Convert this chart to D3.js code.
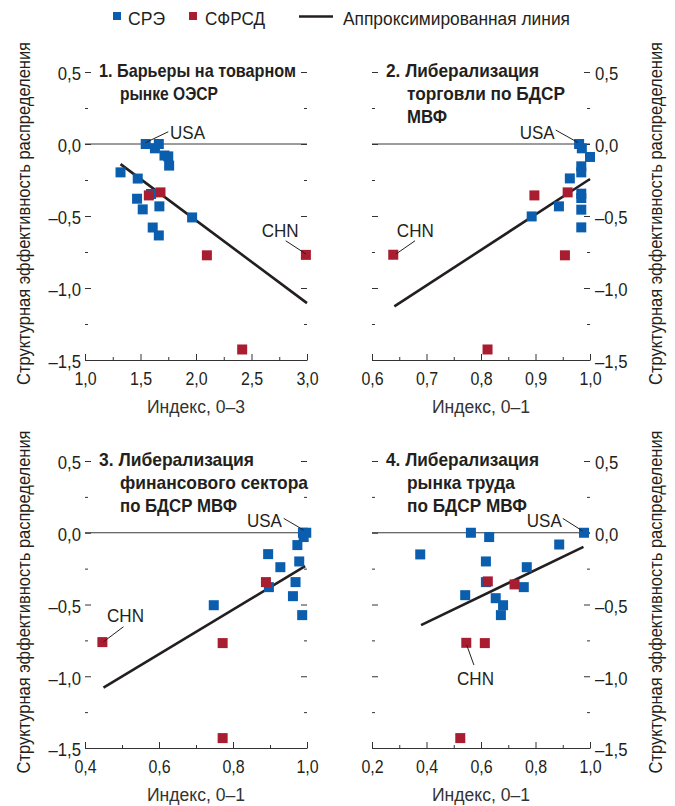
<!DOCTYPE html>
<html><head><meta charset="utf-8">
<script src="https://cdn.jsdelivr.net/npm/d3@7"></script>
<style>body{margin:0;background:#fff}svg{display:block}</style>
</head><body>
<svg id="c" width="675" height="806"></svg>
<script>
// ---------------- DATA ----------------
const legendLabels = ["СРЭ", "СФРСД", "Аппроксимированная линия"];
const yTickValues = [0.5, 0, -0.5, -1, -1.5];
const yMinorValues = [0.25, -0.25, -0.75, -1.25];
const yTitle = "Структурная эффективность распределения";

const p1Title = ["1. Барьеры на товарном", "рынке ОЭСР"];
const p1XLabel = "Индекс, 0–3";
const p1XTicks = [1.0, 1.5, 2.0, 2.5, 3.0];
const p1XMinor = [1.25, 1.75, 2.25, 2.75];
const p1Blue = [[1.547,0],[1.665,0],[1.63,-0.03],[1.716,-0.08],[1.75,-0.086],[1.758,-0.15],[1.32,-0.197],[1.475,-0.24],[1.595,-0.347],[1.469,-0.38],[1.67,-0.433],[1.52,-0.454],[1.965,-0.51],[1.61,-0.58],[1.665,-0.635]];
const p1Red = [[1.575,-0.357],[1.68,-0.336],[2.098,-0.773],[2.99,-0.77],[2.416,-1.427]];
const p1Fit = [[1.32,-0.14],[3.0,-1.105]];

const p2Title = ["2. Либерализация", "торговли по БДСР", "МВФ"];
const p2XLabel = "Индекс, 0–1";
const p2XTicks = [0.6, 0.7, 0.8, 0.9, 1.0];
const p2XMinor = [0.65, 0.75, 0.85, 0.95];
const p2Blue = [[0.98,0],[0.985,-0.03],[1.0,-0.09],[0.984,-0.155],[0.984,-0.197],[0.963,-0.239],[0.984,-0.345],[0.984,-0.375],[0.984,-0.456],[0.943,-0.433],[0.893,-0.503],[0.984,-0.579]];
const p2Red = [[0.898,-0.357],[0.959,-0.336],[0.954,-0.773],[0.639,-0.769],[0.812,-1.427]];
const p2Fit = [[0.641,-1.128],[1.0,-0.243]];

const p3Title = ["3. Либерализация", "финансового сектора", "по БДСР МВФ"];
const p3XLabel = "Индекс, 0–1";
const p3XTicks = [0.4, 0.6, 0.8, 1.0];
const p3XMinor = [0.5, 0.7, 0.9];
const p3Blue = [[0.989,0],[0.998,0],[0.991,-0.03],[0.974,-0.086],[0.895,-0.149],[0.928,-0.24],[0.979,-0.2],[0.897,-0.379],[0.969,-0.344],[0.962,-0.442],[0.748,-0.505],[0.987,-0.574]];
const p3Red = [[0.889,-0.344],[0.772,-0.769],[0.447,-0.762],[0.772,-1.431]];
const p3Fit = [[0.45,-1.08],[0.995,-0.233]];

const p4Title = ["4. Либерализация", "рынка труда", "по БДСР МВФ"];
const p4XLabel = "Индекс, 0–1";
const p4XTicks = [0.2, 0.4, 0.6, 0.8, 1.0];
const p4XMinor = [0.3, 0.5, 0.7, 0.9];
const p4Blue = [[0.978,0],[0.563,0],[0.63,-0.03],[0.887,-0.082],[0.377,-0.151],[0.618,-0.2],[0.768,-0.24],[0.618,-0.344],[0.757,-0.379],[0.542,-0.435],[0.654,-0.456],[0.681,-0.505],[0.673,-0.574]];
const p4Red = [[0.625,-0.339],[0.723,-0.36],[0.546,-0.767],[0.614,-0.769],[0.524,-1.431]];
const p4Fit = [[0.38,-0.644],[0.976,-0.098]];

// annotations: label start (data units) and leader line (data units)
const p1Notes = [{t:"USA", x:1.766, y:0.085, l:[1.547,0.01,1.75,0.085]}, {t:"CHN", x:2.592, y:-0.597, l:[2.808,-0.672,2.991,-0.764]}];
const p2Notes = [{t:"USA", x:0.871, y:0.085, l:[0.937,0.097,0.978,0.01]}, {t:"CHN", x:0.6455, y:-0.597, l:[0.679,-0.672,0.644,-0.764]}];
const p3Notes = [{t:"USA", x:0.8376, y:0.089, l:[0.937,0.1,0.991,0.019]}, {t:"CHN", x:0.4595, y:-0.573, l:[0.504,-0.655,0.45,-0.76]}];
const p4Notes = [{t:"USA", x:0.768, y:0.089, l:[0.9,0.1,0.973,0.012]}, {t:"CHN", x:0.512, y:-1.012, l:[0.574,-0.922,0.5475,-0.782]}];

// ---------------- STYLE / LAYOUT ----------------
const BLUE = "#0b5ead", RED = "#a91d30", INK = "#231f20";
const FONT = "'Liberation Sans', Arial, sans-serif";
const svg = d3.select("#c");
const fmt = v => (v < 0 ? "\u2013" : "") + Math.abs(v).toFixed(1).replace(".", ",");
const condense = (sel, f) => sel.each(function () {
  const w = this.getComputedTextLength();
  if (w > 0) d3.select(this).attr("textLength", w * f).attr("lengthAdjust", "spacingAndGlyphs");
});

const panels = [
  {title:p1Title, tw:[197,98], xl:p1XLabel, xt:p1XTicks, xm:p1XMinor, blue:p1Blue, red:p1Red, fit:p1Fit, notes:p1Notes, xd:[1,3], xr:[85,307], yr:[360,72], side:"left"},
  {title:p2Title, tw:[153,158,40], xl:p2XLabel, xt:p2XTicks, xm:p2XMinor, blue:p2Blue, red:p2Red, fit:p2Fit, notes:p2Notes, xd:[0.6,1.0], xr:[372,590], yr:[360,72], side:"right"},
  {title:p3Title, tw:[155,188,117], xl:p3XLabel, xt:p3XTicks, xm:p3XMinor, blue:p3Blue, red:p3Red, fit:p3Fit, notes:p3Notes, xd:[0.4,1.0], xr:[85,307], yr:[748,461], side:"left"},
  {title:p4Title, tw:[153,108,120], xl:p4XLabel, xt:p4XTicks, xm:p4XMinor, blue:p4Blue, red:p4Red, fit:p4Fit, notes:p4Notes, xd:[0.2,1.0], xr:[372,590], yr:[748,461], side:"right"}
];

// legend
const lg = svg.append("g").attr("font-family", FONT).attr("font-size", 18).attr("fill", INK);
lg.append("rect").attr("x",113).attr("y",12).attr("width",8).attr("height",8).attr("fill",BLUE);
lg.append("text").attr("x",128).attr("y",25).attr("textLength",37).attr("lengthAdjust","spacingAndGlyphs").text(legendLabels[0]);
lg.append("rect").attr("x",189).attr("y",12).attr("width",8).attr("height",8).attr("fill",RED);
lg.append("text").attr("x",205).attr("y",25).attr("textLength",60).attr("lengthAdjust","spacingAndGlyphs").text(legendLabels[1]);
lg.append("line").attr("x1",299).attr("x2",333).attr("y1",16.5).attr("y2",16.5).attr("stroke",INK).attr("stroke-width",2.6);
lg.append("text").attr("x",343).attr("y",25).attr("textLength",227).attr("lengthAdjust","spacingAndGlyphs").text(legendLabels[2]);

panels.forEach(p => {
  const x = d3.scaleLinear().domain(p.xd).range(p.xr);
  const y = d3.scaleLinear().domain([-1.5, 0.5]).range(p.yr);
  const g = svg.append("g").attr("font-family", FONT).attr("fill", INK);
  const x0 = p.xr[0], x1 = p.xr[1], yb = p.yr[0];

  // zero line
  g.append("line").attr("x1", x0).attr("x2", x1).attr("y1", y(0)).attr("y2", y(0))
    .attr("stroke", "#3a3a3a").attr("stroke-width", 1);

  // x axis
  const xa = g.append("g").attr("transform", `translate(0,${yb})`)
    .call(d3.axisBottom(x).tickValues(p.xt).tickSize(-6).tickSizeOuter(0).tickPadding(0).tickFormat(fmt));
  xa.select(".domain").attr("stroke", "#333").attr("stroke-width", 1.2);
  xa.selectAll(".tick line").attr("stroke", "#333");
  xa.selectAll("text").attr("y", 25).attr("dy", 0).attr("font-size", 19).attr("font-family", FONT).attr("fill", INK);
  condense(xa.selectAll("text"), 0.84);
  const xm = g.append("g").attr("transform", `translate(0,${yb})`)
    .call(d3.axisBottom(x).tickValues(p.xm).tickSize(-3).tickFormat(""));
  xm.select(".domain").remove();
  xm.selectAll(".tick line").attr("stroke", "#333");

  // y axes both sides
  const yl = g.append("g").attr("transform", `translate(${x0},0)`)
    .call(d3.axisLeft(y).tickValues(yTickValues).tickSize(-6).tickPadding(4).tickFormat(p.side === "left" ? fmt : ""));
  const yr = g.append("g").attr("transform", `translate(${x1},0)`)
    .call(d3.axisRight(y).tickValues(yTickValues).tickSize(-6).tickPadding(5).tickFormat(p.side === "right" ? fmt : ""));
  const ylm = g.append("g").attr("transform", `translate(${x0},0)`)
    .call(d3.axisLeft(y).tickValues(yMinorValues).tickSize(-3).tickFormat(""));
  const yrm = g.append("g").attr("transform", `translate(${x1},0)`)
    .call(d3.axisRight(y).tickValues(yMinorValues).tickSize(-3).tickFormat(""));
  [yl, yr, ylm, yrm].forEach(a => {
    a.select(".domain").remove();
    a.selectAll(".tick line").attr("stroke", "#333");
    a.selectAll("text").attr("dy", "0.42em").attr("font-size", 19).attr("font-family", FONT).attr("fill", INK);
    condense(a.selectAll("text"), 0.88);
  });

  // x label
  g.append("text").attr("x", (x0 + x1) / 2).attr("y", yb + 53).attr("text-anchor", "middle")
    .attr("font-size", 18).attr("font-weight", "normal").attr("fill", "#333")
    .attr("textLength", 98).attr("lengthAdjust", "spacingAndGlyphs").text(p.xl);

  // title
  const ytop = p.yr[1];
  p.title.forEach((s, i) => {
    g.append("text").attr("x", x0 + (i === 0 ? 14 : 35)).attr("y", ytop + 5 + i * 23)
      .attr("font-size", 19).attr("font-weight", "bold")
      .attr("textLength", p.tw[i]).attr("lengthAdjust", "spacingAndGlyphs").text(s);
  });

  // fit line
  g.append("line").attr("x1", x(p.fit[0][0])).attr("y1", y(p.fit[0][1]))
    .attr("x2", x(p.fit[1][0])).attr("y2", y(p.fit[1][1]))
    .attr("stroke", INK).attr("stroke-width", 2.6);

  // points
  const S = 10;
  g.selectAll(".b").data(p.blue).join("rect").attr("class", "b")
    .attr("x", d => x(d[0]) - S / 2).attr("y", d => y(d[1]) - S / 2)
    .attr("width", S).attr("height", S).attr("fill", BLUE);
  g.selectAll(".r").data(p.red).join("rect").attr("class", "r")
    .attr("x", d => x(d[0]) - S / 2).attr("y", d => y(d[1]) - S / 2)
    .attr("width", S).attr("height", S).attr("fill", RED);

  // annotations
  p.notes.forEach(n => {
    g.append("line").attr("x1", x(n.l[0])).attr("y1", y(n.l[1])).attr("x2", x(n.l[2])).attr("y2", y(n.l[3]))
      .attr("stroke", INK).attr("stroke-width", 1);
    g.append("text").attr("x", x(n.x)).attr("y", y(n.y) + 7).attr("font-size", 18)
      .attr("textLength", n.t === "USA" ? 35 : 37).attr("lengthAdjust", "spacingAndGlyphs").text(n.t);
  });
});

// y axis titles (rotated)
const ty = svg.append("g").attr("font-family", FONT).attr("font-size", 18).attr("fill", INK);
[[30, 213.5], [662, 213.5], [30, 602], [662, 602]].forEach(([cx, cy]) => {
  ty.append("text").attr("transform", `translate(${cx},${cy}) rotate(-90)`).attr("text-anchor", "middle")
    .attr("textLength", 343).attr("lengthAdjust", "spacingAndGlyphs").text(yTitle);
});
</script>
</body></html>
